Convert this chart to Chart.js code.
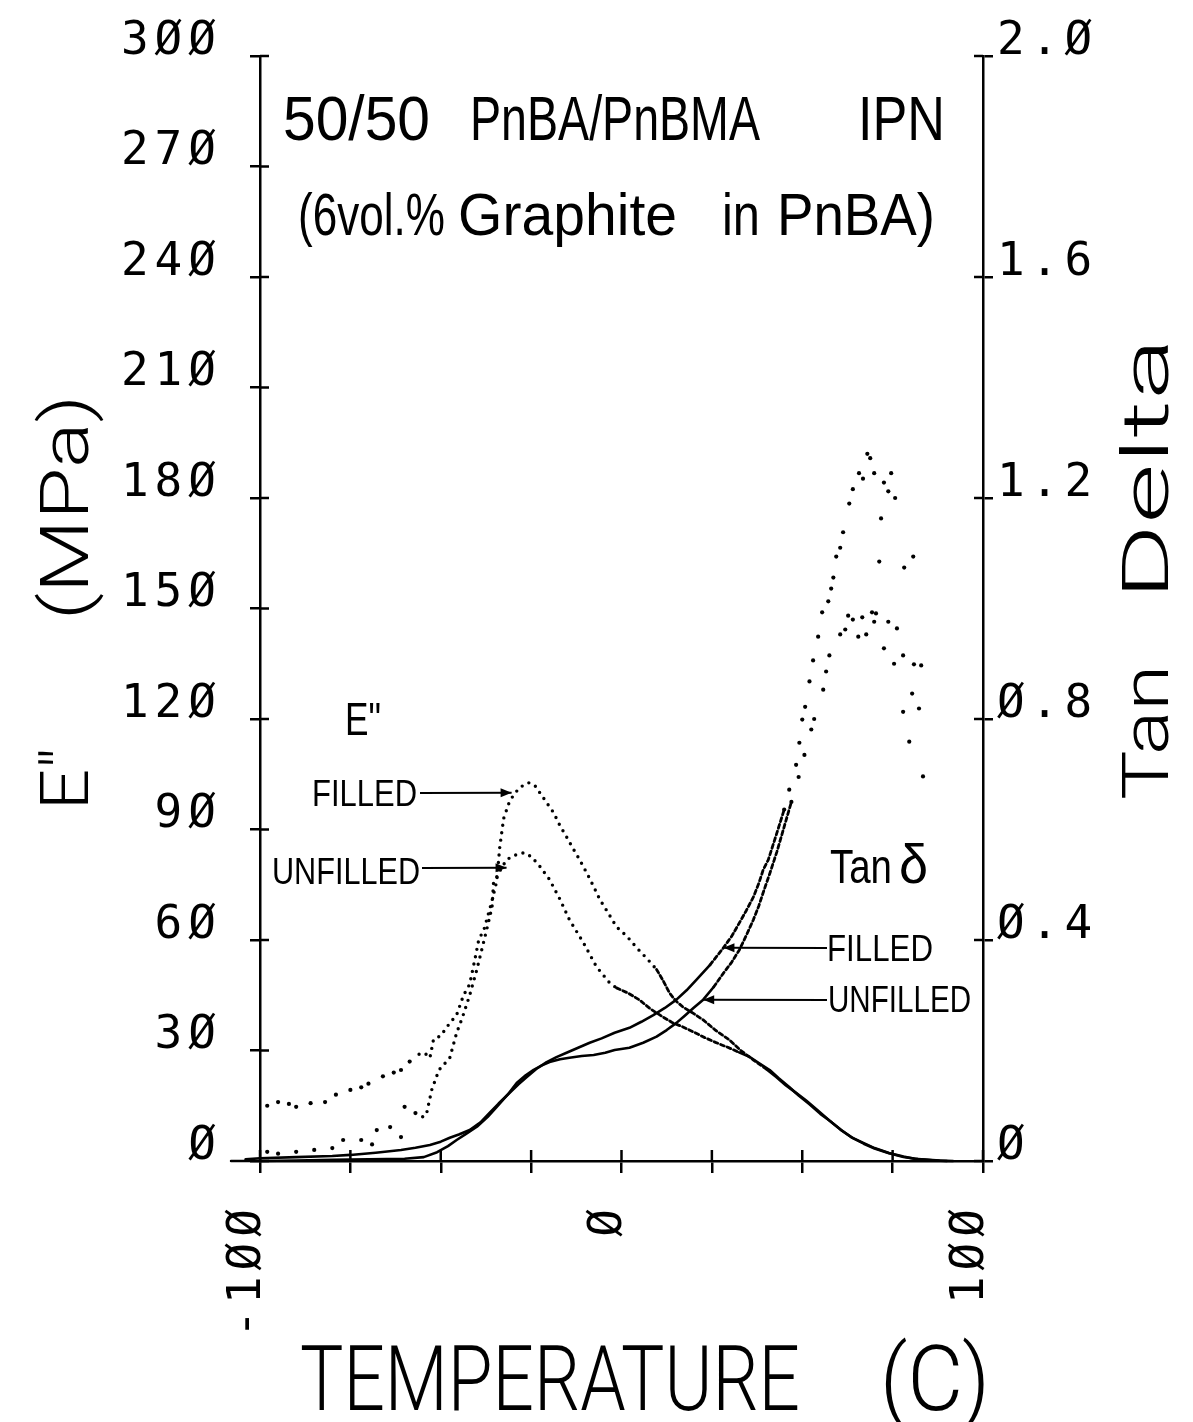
<!DOCTYPE html>
<html><head><meta charset="utf-8">
<script src="https://cdn.jsdelivr.net/npm/chart.js@4"></script>
<style>html,body{margin:0;padding:0;background:#fff;}canvas{display:block;}</style>
</head><body>
<canvas id="c" width="1193" height="1422"></canvas>
<script>
// ---- data ----
const xLabeledTicks = [-100, 0, 100];
const eFilledTemp = [-108.6,-108,-106.5,-104,-102,-101.5,-98,-95,-92,-90,-86,-82,-79,-75,-72,-70,-66,-63,-61,-58.6,-56,-54.4,-53,-52,-50,-48.3,-45.6,-43.7,-42,-40.5,-39.5,-38,-36,-34.5,-33.7,-32.6,-31.2,-29.8,-28,-25.7,-24,-22.6,-20.5,-18.8,-17,-15.2,-13.5,-11.6,-9.5,-7.7,-6,-4.1,-1.4,1.5,4.1,7,9.7,11.5,13.3,15,17,20,22.6,26,29.8,33,36.5,40,42.8,45.5,48.3,51,54,57.5,60.5,63.5,66.9,70,74,78,81,85,88,91.7];
const eFilledMPa = [9,13,18,22,21,17,15,16,15.5,14.7,15.7,16,18,19.3,20,21,23,24,24.7,27,29,29.3,28,33,34,36.4,39.7,45,48,55,60,63,70,76,85,93,97,99.5,101.5,102.7,102,100,97,94.6,91,88,85,81.8,78,74.5,71,68,63.6,61,58,55,52,49,45.6,43.5,41.8,40,38.3,35.5,32.9,30,27.4,25,22.8,20.5,18.5,16.5,14,11,8.6,6.5,4.9,3.5,2.2,1.2,0.6,0.3,0.1,0];
const eUnfilledTemp = [-108,-106,-104,-101,-98,-95,-90,-85,-80,-77,-72,-69,-67.7,-64,-61,-60,-57,-55,-54,-52.5,-50.5,-47.5,-45.6,-44,-42,-40,-38.5,-37,-35.8,-35.4,-33.5,-31.8,-29.6,-27,-24.9,-22.6,-19.9,-17,-14.4,-10.5,-6.9,-3.3,-1.4,2,5,8,11.6,14,17,20,22.6,26,29.8,32.5,35.4,38,41,43.5,46.4,49,52,55,57.5,61,64,67,70,74,78,82,86,90];
const eUnfilledMPa = [1,3,2,5.7,2.5,2,2.5,3,3.5,5.7,5.7,4.5,8.4,9.2,6.5,14.7,13,12,12.5,19.3,24.7,28,34.8,39,45,52,58,64,69,75.5,79,81.8,83,83.7,82.6,80,76.4,71,65.5,59.2,52.7,48.4,47,45.5,43.7,41.3,39,37.6,36.4,35,33.7,32.2,30.7,29.5,28.3,26.6,24.7,22.5,20.1,17.8,15.4,12.8,11,8.2,6.2,4.7,3.4,2.1,1.1,0.5,0.2,0];
const tanFilledTemp = [-108,-104,-100,-90,-80,-75,-68,-61,-57,-53,-50,-47.5,-45,-42,-39,-36.5,-34,-31,-28.5,-26.2,-23.5,-20.7,-18,-15.2,-12,-8.8,-5.5,-1.9,2.2,5.5,8.8,12,15.2,18,20.7,24.5,28.2,30.5,32.6,34.5,36.5,38,39.2,40.6,42.8,45,46.4,48.3,49.2,50,50.8,52,53,54.4,55.5,57.2,58,58.6,59.4,60.5,61.3,63,64,65.7,66.8,68,68.8,69.9,71.3,71.8,72.6,73.8,74.6,75.7,77.9,78.2,79.6,80.7,83.4];
const tanFilledVal = [0,0.003,0.005,0.007,0.009,0.011,0.015,0.02,0.024,0.029,0.035,0.042,0.048,0.056,0.07,0.087,0.104,0.123,0.139,0.152,0.167,0.179,0.188,0.196,0.205,0.214,0.222,0.232,0.241,0.252,0.264,0.277,0.292,0.309,0.328,0.355,0.386,0.407,0.431,0.453,0.478,0.503,0.527,0.545,0.59,0.636,0.672,0.717,0.757,0.799,0.822,0.868,0.906,0.949,0.993,1.013,1.036,1.056,1.094,1.11,1.138,1.19,1.216,1.245,1.235,1.28,1.272,1.245,1.085,1.163,1.228,1.212,1.245,1.2,0.813,1.074,0.759,1.094,0.696];
const tanUnfilledTemp = [-108,-100,-90,-80,-70,-60,-54.7,-51,-48,-45.6,-43,-40,-37,-34.5,-31.5,-29,-26.5,-24.3,-22,-19.9,-17,-14.4,-11,-7.7,-4.5,-1.9,2.2,6,9.7,12.5,15.2,17.5,19.9,22.6,25.5,28.2,30.5,32.6,34.5,36.5,38,39.2,41,43,45,47,49,50.6,52.5,53.3,55.8,56.6,57.5,60.5,61.9,62.7,64,65.5,66.6,67.7,69.3,69.9,70.4,72.6,73.8,75.4,76.2,77.9,80.4,80.9,82.3,82.9];
const tanUnfilledVal = [0,0,0.001,0.002,0.003,0.004,0.007,0.016,0.027,0.038,0.049,0.062,0.08,0.098,0.12,0.141,0.155,0.165,0.173,0.179,0.184,0.187,0.19,0.192,0.196,0.201,0.205,0.214,0.225,0.237,0.25,0.263,0.277,0.292,0.315,0.34,0.36,0.382,0.408,0.437,0.462,0.486,0.52,0.56,0.605,0.65,0.695,0.735,0.781,0.8,0.853,0.886,0.915,0.953,0.962,0.987,0.98,0.949,0.984,0.953,0.993,0.976,0.991,0.928,0.976,0.9,0.964,0.915,0.846,0.899,0.819,0.897];

// ---- helpers ----
const zeroSlash = s => String(s).replace(/0/g, '\u00D8');
const pts = (xs, ys) => xs.map((x, i) => ({ x: x, y: ys[i] }));
const MONO = "'DejaVu Sans Mono', 'Liberation Mono', monospace";
const SANS = "'Liberation Sans Narrow', 'Liberation Sans', 'DejaVu Sans', sans-serif";
const THIN = "300 {s}px Roboto, 'DejaVu Sans', sans-serif";
const thin = s => THIN.replace('{s}', s);

// style by temperature band: [upperBound, mode]; mode: 'pts' | 'dot' | 'dash' | 'solid'
function styler(bands) {
  const mode = x => { for (const b of bands) if (x < b[0]) return b[1]; return bands[bands.length - 1][1]; };
  return {
    segment: {
      borderColor: c => mode(c.p0.parsed.x) === 'pts' ? 'rgba(0,0,0,0)' : '#000',
      borderDash: c => { const m = mode(c.p0.parsed.x); return m === 'dot' ? [0, 7.5] : m === 'dash' ? [4, 3] : []; },
      borderWidth: c => { const m = mode(c.p0.parsed.x); return m === 'dot' ? 3.4 : m === 'dash' ? 2.8 : 2.6; }
    },
    pointRadius: c => (c.raw && mode(c.raw.x) === 'pts') ? 2.1 : 0
  };
}
function series(label, xs, ys, axis, bands) {
  const s = styler(bands);
  return {
    label: label, data: pts(xs, ys), yAxisID: axis, showLine: true, clip: false,
    borderColor: '#000', borderWidth: 2.6, borderCapStyle: 'round', borderJoinStyle: 'round',
    pointBackgroundColor: '#000', pointBorderWidth: 0, pointHoverRadius: 0,
    pointRadius: s.pointRadius, segment: s.segment, tension: 0
  };
}

// ---- annotation / title plugin ----
function fitText(c, text, x, base, width, font) {
  c.save(); c.font = font; const w = c.measureText(text).width;
  c.translate(x, base); c.scale(width / w, 1); c.textAlign = 'left'; c.textBaseline = 'alphabetic';
  c.fillText(text, 0, 0); c.restore();
}
function rotFit(c, text, baseX, startY, length, font) {
  c.save(); c.font = font; const w = c.measureText(text).width;
  c.translate(baseX, startY); c.rotate(-Math.PI / 2); c.scale(length / w, 1);
  c.textAlign = 'left'; c.textBaseline = 'alphabetic'; c.fillText(text, 0, 0); c.restore();
}
function arrow(c, x1, y1, x2, y2) {
  c.beginPath(); c.moveTo(x1, y1); c.lineTo(x2, y2); c.stroke();
  const a = Math.atan2(y2 - y1, x2 - x1), L = 11, W = 4.5;
  c.beginPath(); c.moveTo(x2, y2);
  c.lineTo(x2 - L * Math.cos(a) + W * Math.sin(a), y2 - L * Math.sin(a) - W * Math.cos(a));
  c.lineTo(x2 - L * Math.cos(a) - W * Math.sin(a), y2 - L * Math.sin(a) + W * Math.cos(a));
  c.closePath(); c.fill();
}
const decor = {
  id: 'decor',
  beforeDraw(chart) { chart.ctx.letterSpacing = '6px'; },
  afterDraw(chart) {
    const c = chart.ctx, a = chart.chartArea, sx = chart.scales.x, sy = chart.scales.y, sy2 = chart.scales.y2;
    c.letterSpacing = '0px';
    c.save(); c.strokeStyle = '#000'; c.fillStyle = '#000'; c.lineWidth = 2.5;
    // inner halves of tick marks (ticks cross the axes)
    sx.ticks.forEach(t => { const p = sx.getPixelForValue(t.value); c.beginPath(); c.moveTo(p, a.bottom); c.lineTo(p, a.bottom - 11); c.stroke(); });
    sy.ticks.forEach(t => { const p = sy.getPixelForValue(t.value); c.beginPath(); c.moveTo(a.left, p); c.lineTo(a.left + 9, p); c.stroke(); });
    sy2.ticks.forEach(t => { const p = sy2.getPixelForValue(t.value); c.beginPath(); c.moveTo(a.right, p); c.lineTo(a.right - 9, p); c.stroke(); });
    // axis titles
    rotFit(c, 'E"', 88, 810, 62, thin(67));
    rotFit(c, '(MPa)', 88, 620, 225, thin(67));
    rotFit(c, 'Tan', 1168, 800, 135, thin(65));
    rotFit(c, 'Delta', 1168, 600, 262, thin(65));
    fitText(c, 'TEMPERATURE', 300, 1410, 500, thin(91));
    fitText(c, '(C)', 880, 1410, 110, thin(91));
    // chart heading
    fitText(c, '50/50', 283, 140, 147, '63px ' + SANS);
    fitText(c, 'PnBA/PnBMA', 470, 140, 290, '63px ' + SANS);
    fitText(c, 'IPN', 858, 140, 87, '63px ' + SANS);
    fitText(c, '(6vol.%', 298, 235, 147, '60px ' + SANS);
    fitText(c, 'Graphite', 458, 235, 219, '60px ' + SANS);
    fitText(c, 'in', 722, 235, 38, '60px ' + SANS);
    fitText(c, 'PnBA)', 777, 235, 158, '60px ' + SANS);
    // curve labels
    fitText(c, 'E"', 345, 735, 36, '46px ' + SANS);
    fitText(c, 'FILLED', 312, 806, 105, '36px ' + SANS);
    fitText(c, 'UNFILLED', 272, 884, 148, '36px ' + SANS);
    fitText(c, 'Tan', 830, 883, 62, '48px ' + SANS);
    fitText(c, '\u03B4', 899, 883, 29, '56px ' + SANS);
    fitText(c, 'FILLED', 827, 961, 106, '36px ' + SANS);
    fitText(c, 'UNFILLED', 828, 1012, 143, '36px ' + SANS);
    c.lineWidth = 2;
    arrow(c, 420, 793, sx.getPixelForValue(-30.4), sy.getPixelForValue(100));
    arrow(c, 422, 868, sx.getPixelForValue(-31.8), sy.getPixelForValue(79.6));
    arrow(c, 827, 948, sx.getPixelForValue(28.2), sy2.getPixelForValue(0.386));
    arrow(c, 827, 1000, sx.getPixelForValue(22.6), sy2.getPixelForValue(0.292));
    c.restore();
  }
};

const tickFont = { family: MONO, size: 46 };
new Chart(document.getElementById('c'), {
  type: 'scatter',
  data: {
    datasets: [
      series("E'' filled", eFilledTemp, eFilledMPa, 'y', [[-58, 'pts'], [8, 'dot'], [38, 'dash'], [999, 'solid']]),
      series("E'' unfilled", eUnfilledTemp, eUnfilledMPa, 'y', [[-56, 'pts'], [-2, 'dot'], [30, 'dash'], [999, 'solid']]),
      series('Tan delta filled', tanFilledTemp, tanFilledVal, 'y2', [[22, 'solid'], [44, 'dash'], [999, 'pts']]),
      series('Tan delta unfilled', tanUnfilledTemp, tanUnfilledVal, 'y2', [[25, 'solid'], [46, 'dash'], [999, 'pts']])
    ]
  },
  options: {
    responsive: false, animation: false, devicePixelRatio: 1,
    layout: { padding: { top: 56, left: 0, right: 0, bottom: 0 } },
    plugins: { legend: { display: false }, tooltip: { enabled: false } },
    events: [],
    scales: {
      x: {
        type: 'linear', position: 'bottom', min: -100, max: 100,
        afterFit: s => { s.height = 261; },
        ticks: { stepSize: 25, autoSkip: false, minRotation: 90, maxRotation: 90, padding: 30, labelOffset: -12,
          color: '#000', font: tickFont, callback: v => xLabeledTicks.includes(v) ? zeroSlash(v) : '' },
        grid: { drawOnChartArea: false, drawTicks: true, tickLength: 12, color: '#000', lineWidth: 2.5 },
        border: { display: true, color: '#000', width: 2.5 }
      },
      y: {
        type: 'linear', position: 'left', min: 0, max: 300,
        afterFit: s => { s.width = 260; },
        ticks: { stepSize: 30, padding: 28, labelOffset: -14, color: '#000', font: tickFont, callback: v => zeroSlash(v) },
        grid: { drawOnChartArea: false, drawTicks: true, tickLength: 10, color: '#000', lineWidth: 2.5 },
        border: { display: true, color: '#000', width: 2.5 }
      },
      y2: {
        type: 'linear', position: 'right', min: 0, max: 2,
        afterFit: s => { s.width = 210; },
        ticks: { stepSize: 0.4, padding: 4, labelOffset: -14, color: '#000', font: tickFont,
          callback: v => v === 0 ? zeroSlash(0) : zeroSlash(v.toFixed(1)) },
        grid: { drawOnChartArea: false, drawTicks: true, tickLength: 10, color: '#000', lineWidth: 2.5 },
        border: { display: true, color: '#000', width: 2.5 }
      }
    }
  },
  plugins: [decor]
});
</script>
</body></html>
